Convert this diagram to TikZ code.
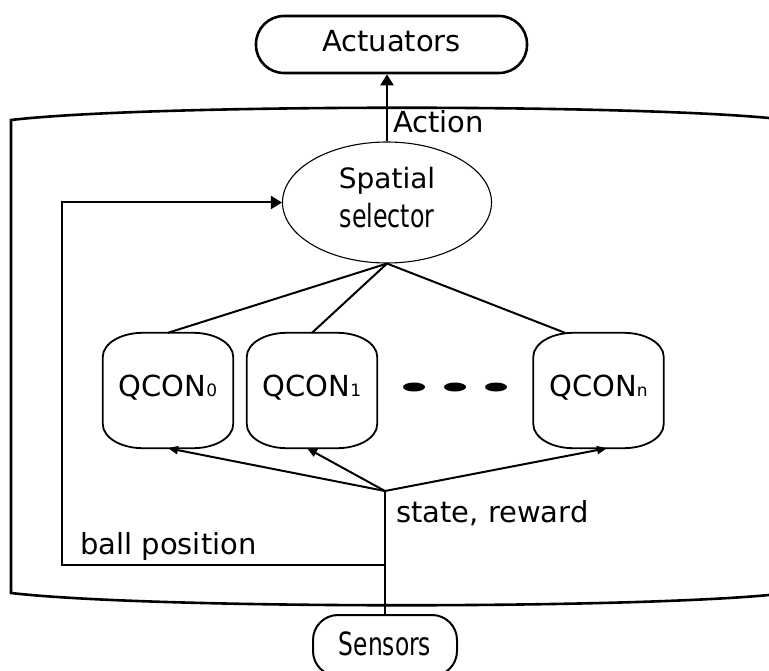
\documentclass[tikz,border=0pt]{standalone}
\usepackage{graphicx}
\usepackage{fontspec}
\setmainfont{DejaVu Sans}
\usetikzlibrary{arrows.meta,shapes.geometric,calc}

\tikzset{
  lbl/.style={font=\fontsize{29}{35}\selectfont, inner sep=0pt},
  conn/.style={line width=2pt},
  arrowbig/.style={conn, -{Triangle[length=11pt,width=13pt]}},
  arrowsmall/.style={conn, -{Triangle[length=10pt,width=8pt]}},
  frame/.style={line width=2.6pt},
  terminal/.style={draw, line width=2.6pt, rounded corners=28pt,
    minimum width=271pt, minimum height=57pt, inner sep=0pt},
  selector/.style={ellipse, draw, line width=1.1pt, minimum width=209pt,
    minimum height=121pt, inner sep=0pt, align=center,
    font=\fontsize{28}{39}\selectfont},
  qcon/.style={rectangle, minimum width=130pt, minimum height=115pt,
    inner sep=0pt, text height=22pt, text depth=10pt,
    font=\fontsize{29}{35}\selectfont},
  qline/.style={line width=1.8pt},
  dot/.style={ellipse, fill, minimum width=22pt, minimum height=9pt, inner sep=0pt},
}
% small index digit set on the baseline
\newcommand\subidx[1]{{\fontsize{17}{17}\selectfont #1}}
% barrel-shaped outline around a Q-controller node
\newcommand\qconframe[1]{%
  \draw[qline] ([yshift=-24pt]#1.north west) -- ([yshift=24pt]#1.south west)
    arc[start angle=180, end angle=270, x radius=40pt, y radius=24pt]
    -- ([xshift=-40pt]#1.south east)
    arc[start angle=270, end angle=360, x radius=40pt, y radius=24pt]
    -- ([yshift=-24pt]#1.north east)
    arc[start angle=0, end angle=90, x radius=40pt, y radius=24pt]
    -- ([xshift=40pt]#1.north west)
    arc[start angle=90, end angle=180, x radius=40pt, y radius=24pt] -- cycle;}

\begin{document}
\begin{tikzpicture}[x=1pt, y=-1pt]
\useasboundingbox (0,0) rectangle (769,671);

% agent boundary
\draw[frame] (769,118) .. controls (620,104) and (150,104) .. (11,120)
  -- (11,593) .. controls (150,609) and (620,609) .. (769,595);

% terminals
\node[terminal, font=\fontsize{29}{35}\selectfont, text height=22pt, text depth=7pt]
  (act) at (391.5,44.5) {Actuators};
\node[terminal, line width=2pt, rounded corners=25pt, minimum width=144pt,
  minimum height=61pt, text height=24pt, text depth=5pt]
  (sens) at (385,645.5) {\scalebox{0.73}[1]{\fontsize{32}{39}\selectfont Sensors}};

% selector
\node[selector] (sel) at (387,202.5)
  {Spatial\\\scalebox{0.74}[1]{\fontsize{32}{39}\selectfont selector}\rule[-11pt]{0pt}{0pt}};

% Q-controllers
\node[qcon] (q0) at (168,390.5) {QCON\subidx{0}};
\node[qcon] (q1) at (312,390.5) {QCON\subidx{1}};
\node[qcon] (qn) at (598.5,390.5) {QCON\subidx{n}};
\qconframe{q0}
\qconframe{q1}
\qconframe{qn}

% ellipsis between controllers
\node[dot] (d1) at (414,387) {};
\node[dot] (d2) at (455,387) {};
\node[dot] (d3) at (496,387) {};

% junction points
\coordinate (j) at (385,491);
\coordinate (bp) at (385,565);
\coordinate (fbl) at (62,565);

% connectors
\draw[arrowbig] (sel.north) -- (sel.north |- act.south);
\draw[conn] (sel.south) -- (q0.north);
\draw[conn] (sel.south) -- (q1.north);
\draw[conn] (sel.south) -- ([xshift=-33.5pt]qn.north);
\draw[conn] (sens.north) -- (j);
\draw[arrowsmall] (j) -- (q0.south);
\draw[arrowsmall] (j) -- ([xshift=-5pt]q1.south);
\draw[arrowsmall] (j) -- ([xshift=8.5pt]qn.south);
\draw[arrowbig] (bp) -- (fbl) |- (sel.west);

% labels
\node[lbl, anchor=base west] (lact) at (393,133) {Action};
\node[lbl, anchor=base west] (lsr) at (396,522) {state, reward};
\node[lbl, anchor=base west] (lbp) at (80,554) {ball position};
\end{tikzpicture}
\end{document}
